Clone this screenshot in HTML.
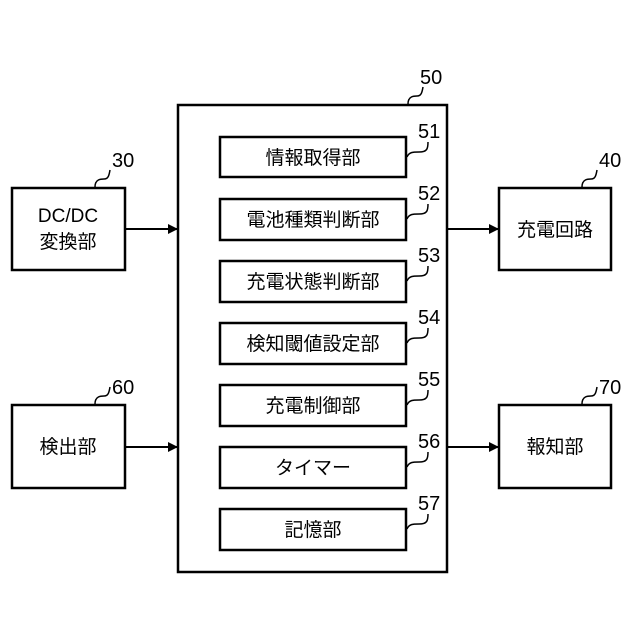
<!DOCTYPE html>
<html><head><meta charset="utf-8"><style>
body{margin:0;background:#fff}
svg{display:block}
text{font-family:"Liberation Sans","Noto Sans CJK JP",sans-serif;fill:#000}
.b{font-size:19px}
.n{font-size:20px}
</style></head><body>
<svg width="640" height="640" viewBox="0 0 640 640">
<defs><marker id="a" markerWidth="10" markerHeight="10" refX="9" refY="5" orient="auto" markerUnits="userSpaceOnUse"><path d="M0,0 L10,5 L0,10 Z" fill="#000"/></marker></defs>
<g fill="none" stroke="#000" stroke-width="2.5">
<rect x="178" y="105" width="269" height="467"/>
<rect x="220" y="137" width="186" height="40"/>
<rect x="220" y="199" width="186" height="41"/>
<rect x="220" y="261" width="186" height="41"/>
<rect x="220" y="323" width="186" height="41"/>
<rect x="220" y="385" width="186" height="41"/>
<rect x="220" y="447" width="186" height="41"/>
<rect x="220" y="509" width="186" height="41"/>
<rect x="12" y="188" width="113" height="82"/>
<rect x="12" y="405" width="113" height="83"/>
<rect x="499" y="188" width="112" height="82"/>
<rect x="499" y="405" width="112" height="83"/>
</g>
<g stroke="#000" stroke-width="2">
<line x1="125" y1="229" x2="177" y2="229" marker-end="url(#a)"/>
<line x1="447" y1="229" x2="498" y2="229" marker-end="url(#a)"/>
<line x1="125" y1="447" x2="177" y2="447" marker-end="url(#a)"/>
<line x1="447" y1="447" x2="498" y2="447" marker-end="url(#a)"/>
</g>
<g fill="none" stroke="#000" stroke-width="1.5">
<path d="M408,104 c0,-8 6,-8 9,-8 c4,0 5,-3 6,-9"/>
<path d="M407,157 c2,-5 6,-5 12,-5 c8,0 9,-3 9,-10"/>
<path d="M407,219 c2,-5 6,-5 12,-5 c8,0 9,-3 9,-10"/>
<path d="M407,281 c2,-5 6,-5 12,-5 c8,0 9,-3 9,-10"/>
<path d="M407,343 c2,-5 6,-5 12,-5 c8,0 9,-3 9,-10"/>
<path d="M407,405 c2,-5 6,-5 12,-5 c8,0 9,-3 9,-10"/>
<path d="M407,467 c2,-5 6,-5 12,-5 c8,0 9,-3 9,-10"/>
<path d="M407,529 c2,-5 6,-5 12,-5 c8,0 9,-3 9,-10"/>
<path d="M95,187 c0,-8 6,-8 9,-8 c4,0 5,-3 6,-9"/>
<path d="M95,404 c0,-8 6,-8 9,-8 c4,0 5,-3 6,-9"/>
<path d="M582,187 c0,-8 6,-8 9,-8 c4,0 5,-3 6,-9"/>
<path d="M582,404 c0,-8 6,-8 9,-8 c4,0 5,-3 6,-9"/>
</g>
<g class="n">
<text x="420" y="84">50</text>
<text x="418" y="138">51</text>
<text x="418" y="200">52</text>
<text x="418" y="262">53</text>
<text x="418" y="324">54</text>
<text x="418" y="386">55</text>
<text x="418" y="448">56</text>
<text x="418" y="510">57</text>
<text x="112" y="167">30</text>
<text x="112" y="394">60</text>
<text x="599" y="167">40</text>
<text x="599" y="394">70</text>
</g>
<g class="b" text-anchor="middle">
<text x="313" y="164">情報取得部</text>
<text x="313" y="226">電池種類判断部</text>
<text x="313" y="288">充電状態判断部</text>
<text x="313" y="350">検知閾値設定部</text>
<text x="313" y="412">充電制御部</text>
<text x="313" y="474">タイマー</text>
<text x="313" y="536">記憶部</text>
<text x="68" y="222">DC/DC</text>
<text x="68" y="248">変換部</text>
<text x="68" y="453">検出部</text>
<text x="555" y="236">充電回路</text>
<text x="555" y="453">報知部</text>
</g>
</svg>
</body></html>
